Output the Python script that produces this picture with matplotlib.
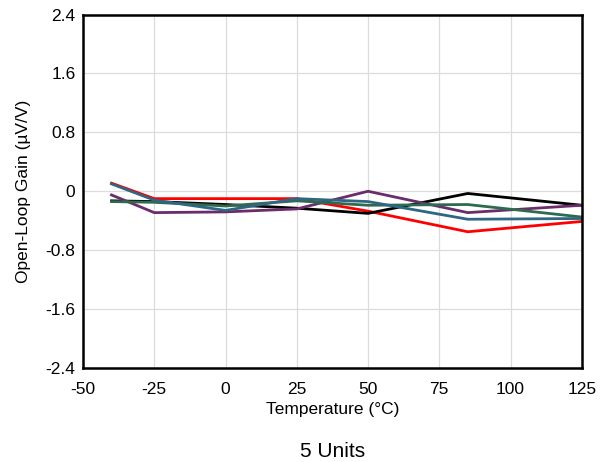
import matplotlib
matplotlib.use("Agg")
import matplotlib.pyplot as plt

plt.rcParams['font.family'] = ['Liberation Sans', 'DejaVu Sans']

temperature = [-40, -25, 0, 25, 50, 85, 125]
unit_red = [0.11, -0.10, -0.10, -0.10, -0.27, -0.55, -0.41]
unit_black = [-0.13, -0.14, -0.18, -0.23, -0.30, -0.03, -0.19]
unit_purple = [-0.05, -0.29, -0.28, -0.24, 0.00, -0.29, -0.19]
unit_green = [-0.14, -0.15, -0.20, -0.13, -0.19, -0.18, -0.35]
unit_blue = [0.10, -0.12, -0.26, -0.10, -0.14, -0.38, -0.37]

x_ticks = [-50, -25, 0, 25, 50, 75, 100, 125]
x_tick_labels = ['-50', '-25', '0', '25', '50', '75', '100', '125']
y_ticks = [-2.4, -1.6, -0.8, 0, 0.8, 1.6, 2.4]
y_tick_labels = ['-2.4', '-1.6', '-0.8', '0', '0.8', '1.6', '2.4']

fig = plt.figure(figsize=(6.06, 4.62), dpi=100)
ax = fig.add_axes([0.137, 0.2035, 0.823, 0.765])

series = [
    (unit_red, '#FF0000'),
    (unit_black, '#000000'),
    (unit_purple, '#6B2C6B'),
    (unit_green, '#2E6B4E'),
    (unit_blue, '#2F6683'),
]
for values, color in series:
    ax.plot(temperature, values, color=color, lw=2.0, solid_joinstyle='miter')

ax.set_xlim(-50, 125)
ax.set_ylim(-2.4, 2.4)
ax.set_xticks(x_ticks)
ax.set_xticklabels(x_tick_labels)
ax.set_yticks(y_ticks)
ax.set_yticklabels(y_tick_labels)
ax.grid(True, color='#DCDCDC', lw=0.9)
ax.set_axisbelow(True)
for sp in ax.spines.values():
    sp.set_linewidth(1.8)
ax.tick_params(length=0, labelsize=12.5)
ax.tick_params(axis='x', pad=10)
ax.tick_params(axis='y', pad=5.5)

ax.set_xlabel('Temperature (°C)', fontsize=12.5, labelpad=4)
ax.set_ylabel('Open-Loop Gain (µV/V)', fontsize=12.5, labelpad=10.5)
fig.text(0.5485, 0.023, '5 Units', ha='center', va='center', fontsize=15)

fig.savefig('out.png', dpi=100)
